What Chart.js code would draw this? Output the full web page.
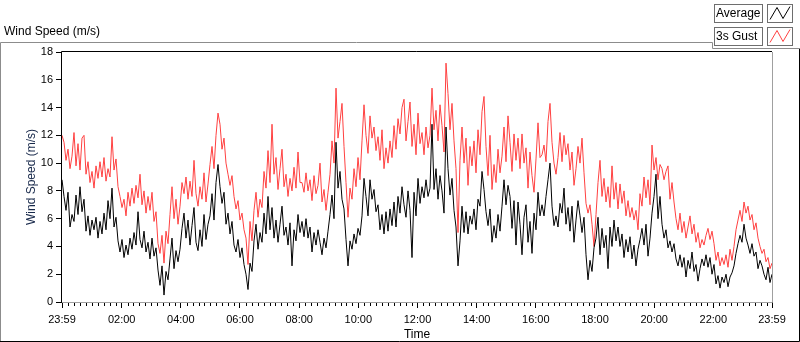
<!DOCTYPE html>
<html>
<head>
<meta charset="utf-8">
<script src="https://cdn.jsdelivr.net/npm/chart.js@4.4.1/dist/chart.umd.min.js"></script>
<style>
  body { margin: 0; background: #fff; }
  canvas { display: block; }
</style>
</head>
<body>
<canvas id="windChart" width="800" height="342"></canvas>
<script>
// tick labels on the time axis (minutes since midnight, -1 = 23:59 the day before)
const tickMinutes = [-1, 120, 240, 360, 480, 600, 720, 840, 960, 1080, 1200, 1320, 1439];
const tickLabels = ['23:59', '02:00', '04:00', '06:00', '08:00', '10:00', '12:00',
                    '14:00', '16:00', '18:00', '20:00', '22:00', '23:59'];
const yTicks = [0, 2, 4, 6, 8, 10, 12, 14, 16, 18];

const average = [
  8.8, 7.6, 6.6, 7.9, 5.4, 6.3, 5.8, 7.7, 6.3, 8.3, 6.5, 7.4, 5.1, 6.2, 4.8, 5.9, 5.2, 6.1, 4.6, 5.8,
  4.9, 6.4, 5.2, 7.3, 6.0, 8.2, 5.4, 6.1, 4.4, 3.6, 4.5, 3.2, 4.1, 3.4, 4.6, 3.8, 5.0, 4.1, 6.5, 4.5,
  3.9, 5.1, 3.6, 4.3, 3.1, 4.6, 3.3, 3.9, 2.3, 1.2, 2.6, 0.5, 2.2, 1.6, 3.1, 4.6, 2.4, 3.7, 2.9, 3.8,
  5.3, 6.4, 4.6, 5.9, 4.1, 5.5, 6.8, 4.3, 3.7, 5.2, 4.0, 6.3, 4.5, 5.6, 6.2, 7.8, 5.9, 8.6, 9.9, 8.3,
  7.1, 7.9, 5.6, 6.4, 4.9, 5.8, 4.1, 3.6, 4.5, 3.2, 3.9, 2.7, 2.0, 0.9, 2.8, 2.2, 4.4, 5.6, 3.8, 5.0,
  4.3, 6.4, 4.9, 7.6, 5.2, 6.8, 4.6, 5.9, 4.3, 5.6, 6.9, 4.8, 5.4, 4.1, 5.7, 2.6, 5.2, 4.4, 6.3, 5.0,
  5.8, 4.7, 6.0, 4.6, 5.4, 3.6, 5.0, 4.1, 5.2, 4.3, 3.4, 4.6, 3.9, 5.1, 6.3, 7.7, 6.0, 11.5, 8.2, 9.4,
  7.4, 6.7, 4.5, 2.6, 4.4, 3.8, 4.9, 4.2, 5.3, 4.8, 6.2, 8.9, 7.6, 6.2, 8.8, 7.4, 8.1, 6.5, 7.0, 5.2,
  6.3, 4.9, 6.5, 5.1, 6.7, 5.5, 7.2, 5.4, 7.6, 6.4, 8.3, 7.0, 6.1, 8.0, 6.6, 3.2, 7.9, 6.2, 8.9, 7.1,
  8.3, 7.5, 8.8, 7.6, 8.2, 12.8, 8.1, 9.6, 7.4, 9.1, 8.0, 6.4, 12.6, 9.6, 7.7, 8.9, 6.6, 5.4, 2.6, 4.4,
  6.9, 5.0, 6.5, 4.9, 6.2, 5.6, 6.7, 5.2, 7.4, 6.9, 9.4, 8.1, 6.5, 5.5, 6.7, 4.3, 5.5, 4.6, 6.3, 5.1,
  6.9, 8.8, 7.0, 8.4, 7.6, 5.3, 7.3, 4.1, 7.2, 5.6, 3.4, 6.1, 7.0, 4.3, 5.8, 3.5, 6.4, 5.2, 7.9, 6.2,
  7.0, 6.2, 7.6, 8.8, 10.0, 6.9, 5.5, 6.2, 5.4, 7.1, 6.4, 8.2, 5.6, 6.8, 5.1, 6.9, 4.3, 5.9, 7.3, 6.2,
  5.0, 6.1, 3.4, 1.6, 3.0, 2.2, 3.9, 4.6, 6.1, 3.4, 5.3, 3.9, 4.8, 2.4, 5.4, 4.0, 5.9, 4.4, 5.4, 4.0,
  4.9, 3.2, 4.5, 3.6, 4.7, 3.1, 4.1, 2.6, 3.8, 4.5, 5.3, 4.1, 5.6, 3.3, 4.6, 6.4, 7.6, 9.2, 6.0, 7.6,
  5.6, 4.6, 5.2, 3.9, 4.4, 3.6, 4.2, 3.1, 2.6, 3.4, 2.5, 3.2, 1.8, 3.0, 2.4, 3.6, 2.2, 2.7, 1.5, 2.4,
  3.1, 2.6, 3.4, 2.5, 3.2, 2.0, 2.7, 1.3, 1.9, 1.0, 1.8, 1.4, 2.0, 1.1, 1.8, 2.1, 2.6, 3.5, 4.2, 4.8,
  4.3, 5.6, 4.6, 4.1, 3.5, 4.2, 3.3, 3.6, 2.4, 3.0, 2.6, 2.0, 1.6, 2.5, 1.4, 2.0
];
const gust = [
  12.0, 11.5, 10.2, 11.0, 9.6, 10.5, 12.2, 9.8, 11.4, 9.5, 11.8, 12.0, 9.2, 10.1, 8.6, 9.4, 8.2, 9.8, 8.9, 10.1,
  9.0, 10.4, 8.7, 9.6, 9.0, 11.9, 9.5, 10.3, 8.3, 7.6, 6.8, 7.4, 6.2, 7.9, 6.9, 8.2, 7.1, 8.4, 7.5, 9.2,
  7.0, 8.0, 6.4, 7.6, 6.6, 7.9, 5.8, 6.5, 4.2, 3.5, 4.8, 2.8, 5.1, 4.2, 6.3, 8.3, 6.0, 7.4, 5.6, 6.9,
  8.6, 7.8, 9.0, 7.4, 8.7, 7.6, 10.2, 7.8, 6.9, 8.3, 7.4, 9.3, 7.2, 8.5, 9.9, 11.2, 9.6, 12.0, 13.6, 12.8,
  11.0, 11.8, 10.0, 9.2, 8.4, 9.1, 7.6, 6.7, 7.3, 5.9, 6.4, 5.2, 4.6, 2.7, 5.8, 4.4, 6.6, 7.9, 6.1, 7.4,
  6.8, 9.4, 8.2, 10.9, 8.6, 12.8, 9.2, 10.4, 8.1, 9.6, 11.0, 8.3, 9.2, 7.6, 8.9, 8.0, 9.7, 8.2, 10.8, 8.6,
  8.6, 7.9, 9.3, 8.0, 8.8, 7.3, 9.1, 7.8, 8.4, 10.0, 7.2, 8.1, 6.6, 7.9, 9.2, 11.6, 10.0, 15.4, 11.8, 13.0,
  14.3, 11.2, 8.6, 6.1, 8.2, 7.4, 9.6, 8.3, 10.4, 8.8, 11.6, 14.2, 12.0, 10.7, 13.4, 11.8, 12.6, 10.9, 11.9, 10.2,
  12.4, 9.6, 11.1, 10.0, 11.6, 10.4, 12.7, 11.0, 13.2, 12.1, 14.0, 14.6, 11.6, 13.0, 14.4, 11.2, 12.8, 10.6, 13.6, 11.4,
  12.2, 10.6, 12.6, 11.1, 12.0, 15.4, 12.4, 13.8, 11.6, 14.2, 12.7, 10.8, 17.2, 15.0, 12.4, 14.3, 11.6, 9.6, 5.0, 10.2,
  12.6, 10.0, 11.8, 8.4, 11.2, 9.8, 11.6, 9.3, 12.4, 10.6, 13.7, 14.8, 11.2, 9.1, 12.0, 8.1, 9.9, 8.6, 11.0, 9.3,
  10.5, 12.6, 10.1, 13.4, 11.5, 9.4, 12.1, 10.2, 11.8, 9.6, 12.1, 10.0, 11.1, 8.2, 10.8, 9.1, 7.9, 10.3, 12.9, 10.4,
  10.6, 11.3, 10.1, 13.0, 14.3, 11.5, 10.0, 9.2, 10.4, 12.2, 10.1, 12.0, 10.6, 11.4, 9.5, 10.8, 8.4, 9.6, 11.2, 10.0,
  11.8, 9.3, 7.1, 6.4, 7.0, 5.6, 4.0, 6.3, 8.6, 10.2, 7.6, 8.9, 7.2, 8.3, 6.8, 9.8, 7.4, 8.6, 6.7, 8.5,
  7.1, 8.0, 6.2, 7.3, 6.1, 6.8, 5.9, 6.6, 5.2, 7.8, 6.9, 9.0, 7.5, 8.8, 7.0, 11.3, 9.5, 10.4, 8.8, 9.9,
  9.6, 8.8, 9.4, 9.8, 7.4, 8.6, 7.2, 6.0, 5.2, 6.4, 5.0, 5.8, 4.6, 5.4, 6.2, 4.9, 5.6, 4.3, 5.0, 3.9,
  4.5, 4.1, 4.8, 5.3, 4.5, 5.1, 4.2, 3.0, 3.6, 2.6, 3.2, 2.7, 3.4, 2.5, 3.8, 3.0, 4.0, 5.2, 5.9, 6.6,
  5.8, 7.2, 6.4, 6.9, 5.9, 6.3, 5.2, 5.7, 4.6, 4.0, 3.5, 3.8, 2.9, 3.2, 2.4, 2.8
];

const START = -1, END = 1439;
const step = (END - START) / (average.length - 1);
const toPoints = arr => arr.map((v, i) => ({x: START + i * step, y: v}));

const FONT = '"Liberation Sans", Arial, sans-serif';

// LabVIEW style frame, minor ticks and the plot legend
const framePlugin = {
  id: 'frame',
  afterDraw(chart) {
    const ctx = chart.ctx;
    const a = chart.chartArea;
    const xs = chart.scales.x;
    ctx.save();
    ctx.lineWidth = 1;

    // minor ticks every 12 min
    ctx.strokeStyle = '#000';
    ctx.beginPath();
    for (let m = 12; m < END; m += 12) {
      if (m % 120 === 0) continue;
      const px = Math.round(xs.getPixelForValue(m)) + 0.5;
      ctx.moveTo(px, a.bottom + 1);
      ctx.lineTo(px, a.bottom + 4);
    }
    ctx.stroke();

    // plot border: dark top/left, grey bottom/right
    ctx.strokeStyle = '#000';
    ctx.beginPath();
    ctx.moveTo(a.left - 0.5, a.bottom);
    ctx.lineTo(a.left - 0.5, a.top - 0.5);
    ctx.lineTo(a.right, a.top - 0.5);
    ctx.stroke();
    ctx.strokeStyle = '#a0a0a0';
    ctx.beginPath();
    ctx.moveTo(a.right + 0.5, a.top);
    ctx.lineTo(a.right + 0.5, a.bottom + 0.5);
    ctx.lineTo(a.left, a.bottom + 0.5);
    ctx.stroke();

    // outer frame
    ctx.strokeStyle = '#8c8c8c';
    ctx.beginPath();
    ctx.moveTo(0.5, 342);
    ctx.lineTo(0.5, 42.5);
    ctx.lineTo(712.5, 42.5);
    ctx.lineTo(712.5, 48.5);
    ctx.lineTo(800, 48.5);
    ctx.stroke();
    ctx.strokeStyle = '#000';
    ctx.beginPath();
    ctx.moveTo(799.5, 49);
    ctx.lineTo(799.5, 341.5);
    ctx.lineTo(0, 341.5);
    ctx.stroke();

    // graph label
    ctx.fillStyle = '#000';
    ctx.font = '12px ' + FONT;
    ctx.textBaseline = 'middle';
    ctx.textAlign = 'left';
    ctx.fillText('Wind Speed (m/s)', 4, 32);

    // legend
    const rows = [
      {label: chart.data.datasets[0].label, color: chart.data.datasets[0].borderColor, y: 4.5},
      {label: chart.data.datasets[1].label, color: chart.data.datasets[1].borderColor, y: 27.5}
    ];
    rows.forEach(r => {
      ctx.strokeStyle = '#6e6e6e';
      ctx.strokeRect(714.5, r.y, 48, 18);
      ctx.strokeRect(767.5, r.y, 25, 18);
      ctx.fillStyle = '#000';
      ctx.fillText(r.label, 716, r.y + 9.5);
      ctx.strokeStyle = r.color;
      ctx.beginPath();
      ctx.moveTo(770, r.y + 15);
      ctx.lineTo(777, r.y + 3);
      ctx.lineTo(783, r.y + 14);
      ctx.lineTo(790, r.y + 2);
      ctx.stroke();
    });
    ctx.restore();
  }
};

new Chart(document.getElementById('windChart'), {
  type: 'line',
  data: {
    datasets: [
      {label: 'Average', data: toPoints(average), borderColor: '#000000'},
      {label: '3s Gust', data: toPoints(gust), borderColor: '#ff4040'}
    ]
  },
  options: {
    responsive: false,
    animation: false,
    parsing: false,
    normalized: true,
    elements: {
      line: {borderWidth: 1, tension: 0, fill: false},
      point: {radius: 0, hoverRadius: 0}
    },
    layout: {padding: {top: 52, right: 28, left: 0, bottom: 0}},
    plugins: {legend: {display: false}, tooltip: {enabled: false}},
    scales: {
      x: {
        type: 'linear',
        min: START,
        max: END,
        afterFit: s => { s.height = 40; },
        afterBuildTicks: s => { s.ticks = tickMinutes.map(v => ({value: v})); },
        border: {display: false},
        grid: {drawOnChartArea: false, tickLength: 6, color: '#000', offset: false},
        ticks: {
          autoSkip: false,
          maxRotation: 0,
          padding: 5,
          color: '#000',
          font: {family: FONT, size: 11},
          callback: (v, i) => tickLabels[i]
        },
        title: {display: true, text: 'Time', color: '#000', font: {family: FONT, size: 12}, padding: {top: 0, bottom: 0}}
      },
      y: {
        min: 0,
        max: 18,
        afterFit: s => { s.width = 62; },
        afterBuildTicks: s => { s.ticks = yTicks.map(v => ({value: v})); },
        border: {display: false},
        grid: {drawOnChartArea: false, tickLength: 6, color: '#000'},
        ticks: {padding: 3, color: '#000', font: {family: FONT, size: 11}},
        title: {display: true, text: 'Wind Speed (m/s)', color: '#17284a', font: {family: FONT, size: 12}, padding: {top: 24, bottom: 0}}
      }
    }
  },
  plugins: [framePlugin]
});
</script>
</body>
</html>
